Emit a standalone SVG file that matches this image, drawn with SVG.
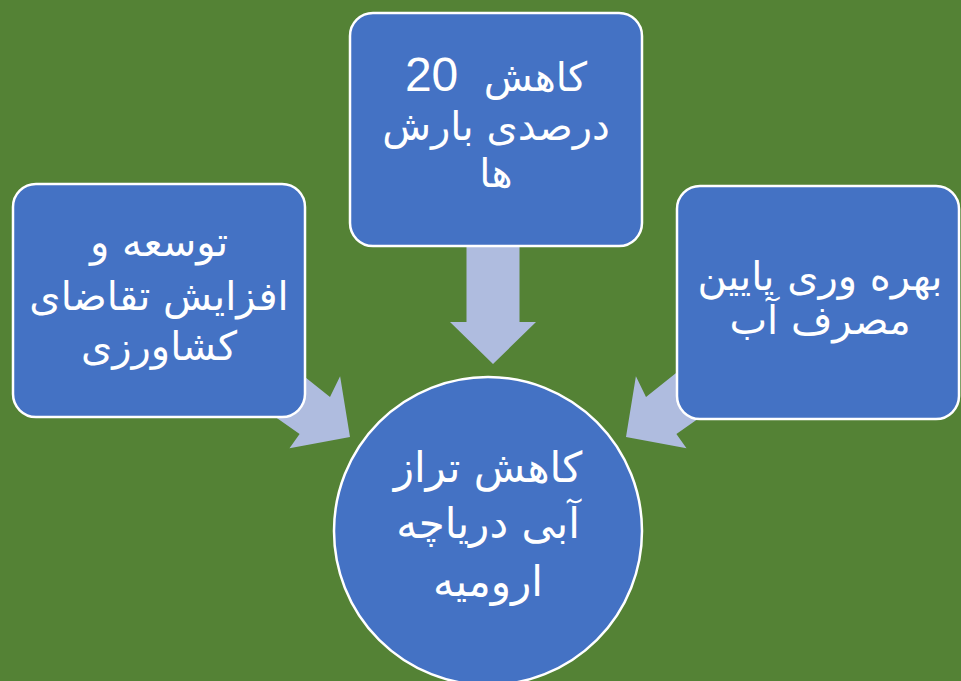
<svg xmlns="http://www.w3.org/2000/svg" width="961" height="681" viewBox="0 0 961 681">
<style>
.bg{fill:#548235}
.box{fill:#4472C4;stroke:#FFFFFF;stroke-width:2.5}
.arr{fill:#AFBCDF}
.t{fill:#FFFFFF;font-family:"DejaVu Sans","Liberation Sans",sans-serif;font-size:40px;text-anchor:middle;direction:rtl}
.c{font-size:42px}
.num{font-family:"Liberation Sans","DejaVu Sans",sans-serif;font-size:48px}
.pre{white-space:pre}
</style>
<rect class="bg" x="0" y="0" width="961" height="681"/>
<g id="connectors">
<polygon class="arr" points="466.5,240 519.5,240 519.5,322 536,322 493,364 450,322 466.5,322"/>
<polygon class="arr" points="234.1,388.1 264.5,344.7 330.0,397.1 340.1,376.3 350,437 289.5,448.3 299.6,434.0"/>
<polygon class="arr" points="741.9,388.1 711.5,344.7 646.0,397.1 635.9,376.3 626,437 686.5,448.3 676.4,434.0"/>
</g>
<g id="node-top">
<rect class="box" x="350" y="13" width="292" height="233" rx="23"/>
<text class="t pre" x="496" y="91">کاهش  <tspan class="num">20</tspan></text>
<text class="t" x="496" y="140">درصدی بارش</text>
<text class="t" x="496" y="187">ها</text>
</g>
<g id="node-left">
<rect class="box" x="13" y="184" width="292" height="233" rx="23"/>
<text class="t" x="159" y="256">توسعه و</text>
<text class="t" x="159" y="310">افزایش تقاضای</text>
<text class="t" x="159" y="360">کشاورزی</text>
</g>
<g id="node-right">
<rect class="box" x="677" y="186" width="282" height="233" rx="23"/>
<text class="t" x="820" y="290">بهره وری پایین</text>
<text class="t" x="820" y="334">مصرف آب</text>
</g>
<g id="node-center">
<circle class="box" cx="488" cy="531" r="154"/>
<text class="t c" x="488" y="482">کاهش تراز</text>
<text class="t c" x="488" y="538">آبی دریاچه</text>
<text class="t c" x="488" y="596">ارومیه</text>
</g>
</svg>
